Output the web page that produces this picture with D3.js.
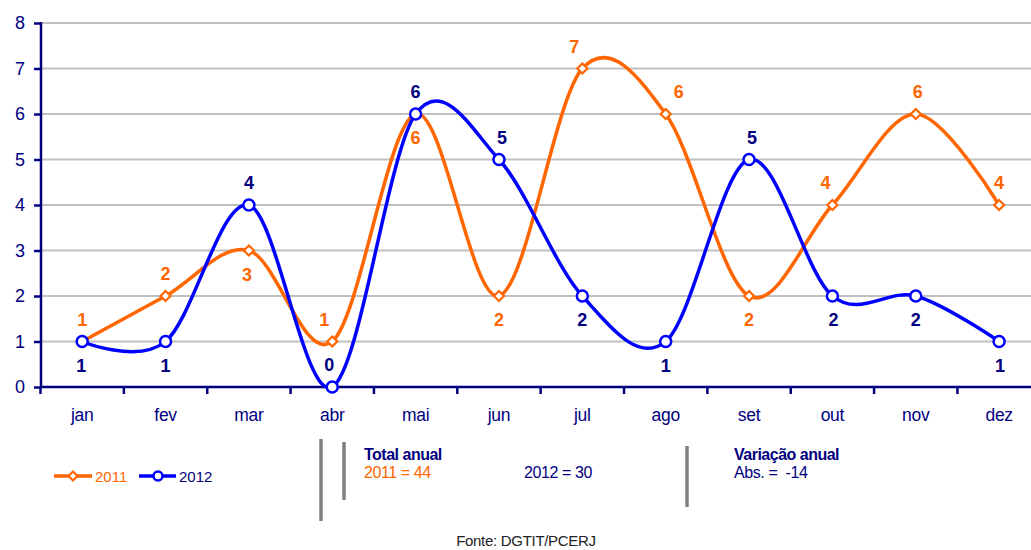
<!DOCTYPE html>
<html><head><meta charset="utf-8">
<script src="https://cdn.jsdelivr.net/npm/d3@7"></script>
<style>body{margin:0;background:#fff}svg{display:block}</style>
</head><body>
<svg id="c" width="1031" height="550"></svg>
<script>
const months = ["jan","fev","mar","abr","mai","jun","jul","ago","set","out","nov","dez"];
const s2011 = [1,2,3,1,6,2,7,6,2,4,6,4];
const s2012 = [1,1,4,0,6,5,2,1,5,2,2,1];
const yTicks = [0,1,2,3,4,5,6,7,8];
// label placement: 1 = above, -1 = below ; dx nudges
const pos2011 = [1,1,-1,1,-1,-1,1,1,-1,1,1,1];
const dx2011 = [0,0,-2,-8,0,0,-8,13,0,-7,2,0];
const pos2012 = [-1,-1,1,1,1,1,-1,-1,1,-1,-1,-1];
const dx2012 = [-1,0,0,-3,0,3,0,0,3,1,0,1];

const svg = d3.select("#c");
const navy = "#000080", orange = "#FF6600", blue = "#0000FF";
const sans = "'Liberation Sans',Arial,sans-serif";
const x = d3.scaleBand().domain(months).range([40.5, 1040.8]);
const y = d3.scaleLinear().domain([0,8]).range([387, 23]);
const cx = m => x(m) + x.bandwidth()/2;

// gridlines
svg.append("g").selectAll("line").data(yTicks.filter(d=>d>0)).join("line")
  .attr("x1", 41).attr("x2", 1031).attr("y1", d=>y(d)).attr("y2", d=>y(d))
  .attr("stroke", "#c0c0c0").attr("stroke-width", 2);

// y axis
const ya = svg.append("g").attr("transform","translate(41,0)")
  .call(d3.axisLeft(y).tickValues(yTicks).tickSize(7).tickPadding(9).tickFormat(d3.format("d")));
ya.select(".domain").attr("stroke", navy).attr("stroke-width", 2.5).attr("d","M0,22V387");
ya.selectAll(".tick line").attr("stroke", navy).attr("stroke-width", 2.5);
ya.selectAll(".tick text").attr("fill", navy).style("font-family",sans).style("font-size","18px");

// x axis
const xa = svg.append("g").attr("transform","translate(0,387)")
  .call(d3.axisBottom(x).tickSize(0).tickPadding(22));
xa.select(".domain").attr("stroke", navy).attr("stroke-width", 2.5).attr("d","M40,0H1031");
xa.selectAll(".tick text").attr("fill", navy).style("font-family",sans).style("font-size","17.5px").style("letter-spacing","-0.3px");
svg.append("g").selectAll("line").data(months).join("line")
  .attr("x1", d=>x(d)).attr("x2", d=>x(d)).attr("y1", 387).attr("y2", 394)
  .attr("stroke", navy).attr("stroke-width", 2.5);

const line = d3.line().x((d,i)=>cx(months[i])).y(d=>y(d)).curve(d3.curveCardinal.tension(0));
const diamond = s => `M0,${-s}L${s},0L0,${s}L${-s},0Z`;

function series(data, color, marker, pos, dxs, labelColor) {
  const g = svg.append("g");
  g.append("path").datum(data).attr("d", line).attr("fill","none")
    .attr("stroke", color).attr("stroke-width", 3.5);
  if (marker === "circle") {
    g.selectAll("circle").data(data).join("circle")
      .attr("cx",(d,i)=>cx(months[i])).attr("cy", d=>y(d)).attr("r", 5.5)
      .attr("fill","#fff").attr("stroke", color).attr("stroke-width", 2.5);
  } else {
    g.selectAll("path.m").data(data).join("path").attr("class","m")
      .attr("transform",(d,i)=>`translate(${cx(months[i])},${y(d)})`)
      .attr("d", diamond(5)).attr("fill","#fff").attr("stroke", color).attr("stroke-width", 2.2);
  }
  g.selectAll("text").data(data).join("text")
    .attr("x",(d,i)=>cx(months[i]) + dxs[i])
    .attr("y",(d,i)=>y(d) + (pos[i] > 0 ? -16 : 30))
    .attr("text-anchor","middle")
    .attr("fill", labelColor)
    .style("font-family",sans)
    .style("font-weight","bold").style("font-size","18px")
    .text(d=>d);
}
series(s2011, orange, "diamond", pos2011, dx2011, orange);
series(s2012, blue, "circle", pos2012, dx2012, navy);

// legend
const lg = svg.append("g").style("font-family",sans).style("font-size","15px");
lg.append("line").attr("x1",54).attr("x2",92).attr("y1",476).attr("y2",476).attr("stroke",orange).attr("stroke-width",3.5);
lg.append("path").attr("transform","translate(73,476)").attr("d",diamond(4.5)).attr("fill","#fff").attr("stroke",orange).attr("stroke-width",2.2);
lg.append("text").attr("x",95).attr("y",482).attr("fill",orange).text("2011");
lg.append("line").attr("x1",139).attr("x2",176).attr("y1",476).attr("y2",476).attr("stroke",blue).attr("stroke-width",3.5);
lg.append("circle").attr("cx",158).attr("cy",476).attr("r",4.5).attr("fill","#fff").attr("stroke",blue).attr("stroke-width",2.5);
lg.append("text").attr("x",179).attr("y",482).attr("fill",navy).text("2012");

// separators
const seps = [[321,439,521],[344,442,500],[687,446,507]];
svg.append("g").selectAll("line").data(seps).join("line")
  .attr("x1",d=>d[0]).attr("x2",d=>d[0]).attr("y1",d=>d[1]).attr("y2",d=>d[2])
  .attr("stroke","#808080").attr("stroke-width",3.5);

// totals
const tg = svg.append("g").style("font-family", sans).style("font-size","16px");
const tot2011 = d3.sum(s2011), tot2012 = d3.sum(s2012);
tg.append("text").attr("x",364).attr("y",460).attr("fill",navy).style("font-weight","bold").style("letter-spacing","-0.5px").text("Total anual");
tg.append("text").attr("x",364).attr("y",478).attr("fill",orange).style("letter-spacing","-0.4px").text(`2011 = ${tot2011}`);
tg.append("text").attr("x",524).attr("y",478).attr("fill",navy).style("letter-spacing","-0.4px").text(`2012 = ${tot2012}`);
tg.append("text").attr("x",734).attr("y",460).attr("fill",navy).style("font-weight","bold").style("letter-spacing","-0.5px").text("Variação anual");
tg.append("text").attr("x",734).attr("y",478).attr("fill",navy).style("white-space","pre").style("letter-spacing","-0.4px").text(`Abs. =  ${tot2012 - tot2011}`);

svg.append("text").attr("x",526).attr("y",546).attr("text-anchor","middle")
  .attr("fill","#222").style("font-family",sans).style("font-size","15px").style("letter-spacing","-0.3px").text("Fonte: DGTIT/PCERJ");
</script>
</body></html>
